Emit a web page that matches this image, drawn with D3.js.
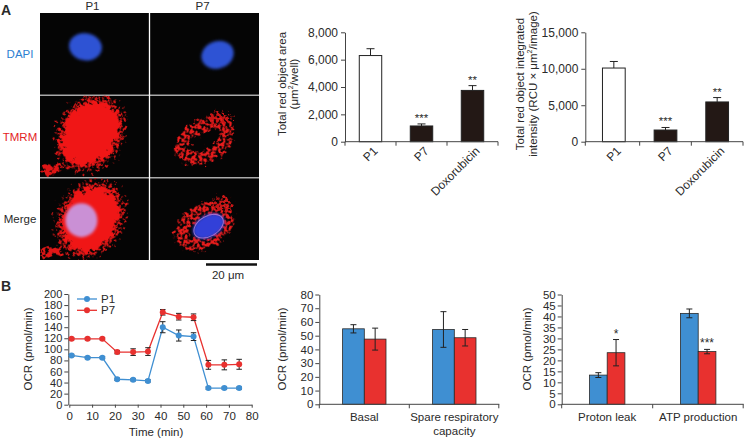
<!DOCTYPE html>
<html><head><meta charset="utf-8">
<script src="https://cdn.jsdelivr.net/npm/d3@7"></script>
<style>
body{margin:0;background:#fff;}
svg{display:block;font-family:"Liberation Sans",Arial,sans-serif;}
text{fill:#2a2a2a;}
</style></head>
<body>
<svg id="c" width="744" height="439"></svg>
<script>
// ---------- DATA ----------
const imgCols = ["P1", "P7"];
const imgRows = ["DAPI", "TMRM", "Merge"];
const scaleBarLabel = "20 \u03bcm";

const areaCats = ["P1", "P7", "Doxorubicin"];
const areaVals = [6300, 1150, 3750];
const areaErr = [500, 150, 350];
const areaSig = ["", "***", "**"];
const areaTicks = [0, 2000, 4000, 6000, 8000];

const intCats = ["P1", "P7", "Doxorubicin"];
const intVals = [10100, 1600, 5450];
const intErr = [900, 350, 600];
const intSig = ["", "***", "**"];
const intTicks = [0, 5000, 10000, 15000];

const timePts = [1, 8, 14.5, 21, 28, 34.5, 41, 48, 54.5, 61, 68, 74.5];
const p1Ocr = [89, 85, 85, 46, 45, 43, 140, 125, 123, 30, 30, 30];
const p1OcrErr = [2, 2, 2, 2, 2, 2, 10, 10, 7, 2, 2, 2];
const p7Ocr = [119, 119, 119, 95, 95, 96, 167, 159, 158, 72, 72, 73];
const p7OcrErr = [2, 2, 2, 3, 6, 7, 5, 6, 6, 8, 9, 9];
const timeTicks = [0, 10, 20, 30, 40, 50, 60, 70, 80];
const ocrTicks = [0, 20, 40, 60, 80, 100, 120, 140, 160, 180, 200];
const seriesNames = ["P1", "P7"];

const resCats = [["Basal"], ["Spare respiratory", "capacity"]];
const resP1 = [55, 54.5];
const resP1Err = [3, 13];
const resP7 = [47.5, 48.5];
const resP7Err = [8, 6];
const resTicks = [0, 10, 20, 30, 40, 50, 60, 70, 80];

const leakCats = [["Proton leak"], ["ATP production"]];
const leakP1 = [13.3, 41.4];
const leakP1Err = [1.1, 2];
const leakP7 = [23.5, 24];
const leakP7Err = [6, 1];
const leakSig = ["*", "***"];
const leakTicks = [0, 5, 10, 15, 20, 25, 30, 35, 40, 45, 50];

// ---------- STYLE ----------
const BLUE = "#3f8fd2", RED = "#e8312f", DARK = "#231815", AX = "#444";
const svg = d3.select("#c");

function styleAxis(g, fs) {
  g.selectAll("path.domain").attr("stroke", AX).attr("stroke-width", 1);
  g.selectAll(".tick line").attr("stroke", AX);
  g.selectAll(".tick text").attr("fill", "#2a2a2a").style("font-size", (fs || 11) + "px").style("font-family", '"Liberation Sans",Arial,sans-serif');
}
function errBar(g, x, y0, y1, w) {
  g.append("line").attr("x1", x).attr("x2", x).attr("y1", y0).attr("y2", y1).attr("stroke", "#222").attr("stroke-width", 1);
  g.append("line").attr("x1", x - w / 2).attr("x2", x + w / 2).attr("y1", y1).attr("y2", y1).attr("stroke", "#222").attr("stroke-width", 1);
}
function errBar2(g, x, ya, yb, w) {
  g.append("line").attr("x1", x).attr("x2", x).attr("y1", ya).attr("y2", yb).attr("stroke", "#222").attr("stroke-width", 1);
  [ya, yb].forEach(yy => g.append("line").attr("x1", x - w / 2).attr("x2", x + w / 2).attr("y1", yy).attr("y2", yy).attr("stroke", "#222").attr("stroke-width", 1));
}

// ---------- PANEL LETTERS ----------
svg.append("text").attr("x", 1).attr("y", 15).style("font-size", "14px").style("font-weight", "bold").attr("fill", "#222").text("A");
svg.append("text").attr("x", 1).attr("y", 291).style("font-size", "14px").style("font-weight", "bold").attr("fill", "#222").text("B");

// ---------- MICROGRAPHS ----------
const defs = svg.append("defs");
const f1 = defs.append("filter").attr("id", "rough").attr("x", "-30%").attr("y", "-30%").attr("width", "160%").attr("height", "160%");
f1.append("feTurbulence").attr("type", "fractalNoise").attr("baseFrequency", 0.16).attr("numOctaves", 3).attr("seed", 3).attr("result", "n");
f1.append("feDisplacementMap").attr("in", "SourceGraphic").attr("in2", "n").attr("scale", 18).attr("xChannelSelector", "R").attr("yChannelSelector", "G");
const f2 = defs.append("filter").attr("id", "rough2").attr("x", "-30%").attr("y", "-30%").attr("width", "160%").attr("height", "160%");
f2.append("feTurbulence").attr("type", "fractalNoise").attr("baseFrequency", 0.22).attr("numOctaves", 2).attr("seed", 7).attr("result", "n");
f2.append("feDisplacementMap").attr("in", "SourceGraphic").attr("in2", "n").attr("scale", 14).attr("xChannelSelector", "R").attr("yChannelSelector", "G").attr("result", "d");
f2.append("feTurbulence").attr("type", "fractalNoise").attr("baseFrequency", 0.35).attr("numOctaves", 1).attr("seed", 11).attr("result", "m");
f2.append("feColorMatrix").attr("in", "m").attr("type", "matrix").attr("values", "0 0 0 0 0  0 0 0 0 0  0 0 0 0 0  0 0 0 8 -3.4").attr("result", "mask");
f2.append("feComposite").attr("in", "d").attr("in2", "mask").attr("operator", "in");
const fb = defs.append("filter").attr("id", "blur").attr("x", "-30%").attr("y", "-30%").attr("width", "160%").attr("height", "160%");
fb.append("feGaussianBlur").attr("stdDeviation", 1.4);
const fe = defs.append("filter").attr("id", "edge").attr("x", "-30%").attr("y", "-30%").attr("width", "160%").attr("height", "160%");
fe.append("feTurbulence").attr("type", "fractalNoise").attr("baseFrequency", 0.3).attr("numOctaves", 2).attr("seed", 5).attr("result", "n");
fe.append("feDisplacementMap").attr("in", "SourceGraphic").attr("in2", "n").attr("scale", 26).attr("xChannelSelector", "R").attr("yChannelSelector", "G").attr("result", "d");
fe.append("feTurbulence").attr("type", "fractalNoise").attr("baseFrequency", 0.4).attr("numOctaves", 1).attr("seed", 2).attr("result", "m");
fe.append("feColorMatrix").attr("in", "m").attr("type", "matrix").attr("values", "0 0 0 0 0  0 0 0 0 0  0 0 0 0 0  0 0 0 7 -2.9").attr("result", "mask");
fe.append("feComposite").attr("in", "d").attr("in2", "mask").attr("operator", "in");

const colX = d3.scaleBand().domain(imgCols).range([40, 259]).paddingInner(0.012);
const rowY = d3.scaleBand().domain(imgRows).range([13, 260]).paddingInner(0.012);
const mg = svg.append("g");
imgCols.forEach(c => imgRows.forEach(r => {
  const x0 = colX(c), y0 = rowY(r), w = colX.bandwidth(), h = rowY.bandwidth();
  const cell = mg.append("g");
  cell.append("clipPath").attr("id", `cp${c}${r}`).append("rect").attr("x", x0).attr("y", y0).attr("width", w).attr("height", h);
  cell.append("rect").attr("x", x0).attr("y", y0).attr("width", w).attr("height", h).attr("fill", "#050505");
  const g = cell.append("g").attr("clip-path", `url(#cp${c}${r})`);
  const cx = x0 + w / 2, cy = y0 + h / 2;
  if (r === "DAPI") {
    const dx = c === "P1" ? -9 : 13, dy = c === "P1" ? -7 : 1;
    g.append("ellipse").attr("cx", cx + dx).attr("cy", cy + dy).attr("rx", 16.5).attr("ry", 13.5)
      .attr("transform", `rotate(${c === "P1" ? 10 : -20},${cx + dx},${cy + dy})`)
      .attr("fill", "#2d52d4").attr("filter", "url(#blur)");
  } else {
    if (c === "P1") {
      const ox = -4, oy = r === "TMRM" ? -3 : 0;
      g.append("ellipse").attr("cx", cx + ox).attr("cy", cy + oy).attr("rx", 32).attr("ry", 40)
        .attr("transform", `rotate(30,${cx + ox},${cy + oy})`).attr("fill", "#d81818").attr("filter", "url(#edge)");
      g.append("ellipse").attr("cx", cx + ox).attr("cy", cy + oy).attr("rx", 27).attr("ry", 34)
        .attr("transform", `rotate(30,${cx + ox},${cy + oy})`).attr("fill", "#f01818").attr("filter", "url(#rough)");
      g.append("ellipse").attr("cx", x0 + 12).attr("cy", y0 + h - 8).attr("rx", 12).attr("ry", 4)
        .attr("transform", `rotate(-20,${x0 + 12},${y0 + h - 8})`).attr("fill", "#e01515").attr("filter", "url(#rough)");
      if (r === "Merge") {
        g.append("ellipse").attr("cx", cx - 13).attr("cy", cy + 1).attr("rx", 16).attr("ry", 17)
          .attr("fill", "#c79be6").attr("opacity", 0.92).attr("filter", "url(#blur)");
      }
    } else {
      const oy = r === "TMRM" ? 4 : 7;
      g.append("ellipse").attr("cx", cx).attr("cy", cy + oy).attr("rx", 25).attr("ry", 15)
        .attr("transform", `rotate(-30,${cx},${cy + oy})`).attr("fill", "none")
        .attr("stroke", "#e81a1a").attr("stroke-width", 13).attr("filter", "url(#rough2)");
      g.append("ellipse").attr("cx", cx + 16).attr("cy", cy + oy - 22).attr("rx", 11).attr("ry", 7)
        .attr("fill", "#c81515").attr("filter", "url(#rough2)");
      if (r === "Merge") {
        g.append("ellipse").attr("cx", cx + 4).attr("cy", cy + oy).attr("rx", 17).attr("ry", 11)
          .attr("transform", `rotate(-30,${cx + 4},${cy + oy})`).attr("fill", "#3340d8").attr("filter", "url(#blur)");
        g.append("ellipse").attr("cx", cx + 4).attr("cy", cy + oy).attr("rx", 16).attr("ry", 10)
          .attr("transform", `rotate(-30,${cx + 4},${cy + oy})`).attr("fill", "none").attr("stroke", "#d9a0f0").attr("stroke-width", 1).attr("opacity", 0.6);
      }
    }
  }
}));
imgCols.forEach(c => mg.append("text").attr("x", colX(c) + colX.bandwidth() / 2 - 2).attr("y", 10).attr("text-anchor", "middle").style("font-size", "11.5px").text(c));
const rowColor = { DAPI: "#2d7fd1", TMRM: "#e31e24", Merge: "#2a2a2a" };
imgRows.forEach(r => mg.append("text").attr("x", 20).attr("y", rowY(r) + rowY.bandwidth() / 2 + 4).attr("text-anchor", "middle")
  .style("font-size", "11.5px").style("fill", rowColor[r]).text(r));
mg.append("line").attr("x1", 206).attr("x2", 257).attr("y1", 264.5).attr("y2", 264.5).attr("stroke", "#111").attr("stroke-width", 2.5);
mg.append("text").attr("x", 228).attr("y", 279).attr("text-anchor", "middle").style("font-size", "11.5px").text(scaleBarLabel);

// ---------- A BAR CHARTS ----------
function barChartA(cats, vals, errs, sig, ticks, xr, axisX, labels, labelX) {
  const g = svg.append("g");
  const y = d3.scaleLinear().domain([0, ticks[ticks.length - 1]]).range([141.7, 32.3]);
  const x = d3.scaleBand().domain(cats).range(xr).paddingInner(0.56).paddingOuter(0.28);
  const xs = d3.scaleBand().domain(cats).range(xr);
  cats.forEach((c, i) => {
    const cx = x(c) + x.bandwidth() / 2;
    errBar(g, cx, y(vals[i]), y(vals[i] + errs[i]), 8);
    g.append("rect").attr("x", x(c)).attr("y", y(vals[i])).attr("width", x.bandwidth()).attr("height", y(0) - y(vals[i]))
      .attr("fill", i === 0 ? "#fff" : DARK).attr("stroke", "#222").attr("stroke-width", 1);
    if (sig[i]) g.append("text").attr("x", cx).attr("y", y(vals[i] + errs[i]) - 2).attr("text-anchor", "middle").style("font-size", "11.5px").text(sig[i]);
    g.append("text").attr("transform", `translate(${cx + 5},${y(0) + 7}) rotate(-45)`).attr("text-anchor", "end").attr("dy", "0.35em")
      .style("font-size", "12px").text(c);
  });
  const ya = g.append("g").attr("transform", `translate(${axisX},0)`).call(d3.axisLeft(y).tickValues(ticks).tickSize(4).tickSizeOuter(0).tickFormat(d3.format(",")));
  styleAxis(ya, 12);
  g.append("line").attr("x1", axisX).attr("x2", xr[1]).attr("y1", y(0)).attr("y2", y(0)).attr("stroke", AX);
  const bounds = cats.map(c => xs(c)).concat([xr[1]]);
  bounds.forEach((b, i) => g.append("line").attr("x1", i === 0 ? axisX : b).attr("x2", i === 0 ? axisX : b).attr("y1", y(0)).attr("y2", y(0) + 4).attr("stroke", AX));
  labels.forEach((l, i) => g.append("text").attr("transform", `translate(${labelX[i]},84) rotate(-90)`).attr("text-anchor", "middle")
    .style("font-size", "11.5px").html(l));
}
barChartA(areaCats, areaVals, areaErr, areaSig, areaTicks, [345, 498], 345,
  ["Total red object area", "(\u03bcm<tspan dy='-5' font-size='7'>2</tspan><tspan dy='5'>/well)</tspan>"], [286, 298]);
barChartA(intCats, intVals, intErr, intSig, intTicks, [588, 743], 585.3,
  ["Total red object integrated", "intensity (RCU \u00d7 \u03bcm<tspan dy='-5' font-size='7'>2</tspan><tspan dy='5'>/image)</tspan>"], [524, 537]);

// ---------- B LINE CHART ----------
(function () {
  const g = svg.append("g");
  const x = d3.scaleLinear().domain([0, 80]).range([69.3, 251.7]);
  const y = d3.scaleLinear().domain([0, 200]).range([404.7, 294]);
  const xa = g.append("g").attr("transform", `translate(0,${y(0)})`).call(d3.axisBottom(x).tickValues(timeTicks).tickSize(3).tickSizeOuter(0));
  styleAxis(xa, 11.5);
  const ya = g.append("g").attr("transform", `translate(${x(0) - 1},0)`).call(d3.axisLeft(y).tickValues(ocrTicks).tickSize(4).tickSizeOuter(0));
  styleAxis(ya, 11);
  ya.selectAll(".tick text").attr("x", -6);
  xa.selectAll(".tick text").attr("y", 7.5);
  const series = [[p1Ocr, p1OcrErr, BLUE], [p7Ocr, p7OcrErr, RED]];
  series.forEach(([v, e, col]) => {
    g.append("path").datum(v).attr("fill", "none").attr("stroke", col).attr("stroke-width", 1.3)
      .attr("d", d3.line().x((d, i) => x(timePts[i])).y(d => y(d)));
    v.forEach((d, i) => errBar2(g, x(timePts[i]), y(d - e[i]), y(d + e[i]), 5.5));
    v.forEach((d, i) => g.append("circle").attr("cx", x(timePts[i])).attr("cy", y(d)).attr("r", 3).attr("fill", col));
  });
  seriesNames.forEach((n, i) => {
    const ly = 299 + i * 11.3, col = i === 0 ? BLUE : RED;
    g.append("line").attr("x1", 77).attr("x2", 97).attr("y1", ly).attr("y2", ly).attr("stroke", col).attr("stroke-width", 1.3);
    g.append("circle").attr("cx", 87).attr("cy", ly).attr("r", 3).attr("fill", col);
    g.append("text").attr("x", 101).attr("y", ly + 4).style("font-size", "11.5px").text(n);
  });
  g.append("text").attr("transform", `translate(32,349) rotate(-90)`).attr("text-anchor", "middle").style("font-size", "11.5px").text("OCR (pmol/min)");
  g.append("text").attr("x", 156).attr("y", 436).attr("text-anchor", "middle").style("font-size", "11.5px").text("Time (min)");
})();

// ---------- B GROUPED BARS ----------
function groupBars(cats, a, ae, b, be, sig, ticks, xr, barW, ylabX) {
  const g = svg.append("g");
  const y = d3.scaleLinear().domain([0, ticks[ticks.length - 1]]).range([404.3, 294.5]);
  const keys = cats.map(c => c.join(" "));
  const x = d3.scaleBand().domain(keys).range(xr);
  keys.forEach((k, i) => {
    const cx = x(k) + x.bandwidth() / 2;
    [[a, BLUE, -1], [b, RED, 0]].forEach(([v, col, off]) => {
      const bx = cx + off * barW;
      g.append("rect").attr("x", bx).attr("y", y(v[i])).attr("width", barW).attr("height", y(0) - y(v[i]))
        .attr("fill", col).attr("stroke", "#2a2a2a").attr("stroke-width", 0.8);
    });
    [[a, ae, -0.5], [b, be, 0.5]].forEach(([v, e, off]) => errBar2(g, cx + off * barW, y(v[i] - e[i]), y(v[i] + e[i]), 6));
    if (sig && sig[i]) g.append("text").attr("x", cx + 0.5 * barW).attr("y", y(b[i] + be[i]) - 2).attr("text-anchor", "middle").style("font-size", "12px").text(sig[i]);
    cats[i].forEach((line, j) => g.append("text").attr("x", cx).attr("y", 421 + j * 13.5).attr("text-anchor", "middle").style("font-size", "11.5px").text(line));
  });
  const ya = g.append("g").attr("transform", `translate(${xr[0]},0)`).call(d3.axisLeft(y).tickValues(ticks).tickSize(4).tickSizeOuter(0));
  styleAxis(ya, 11.5);
  ya.selectAll(".tick text").attr("x", -6);
  g.append("line").attr("x1", xr[0]).attr("x2", xr[1]).attr("y1", y(0)).attr("y2", y(0)).attr("stroke", AX);
  keys.map(k => x(k)).concat([xr[1] - 0.5]).forEach(bx => g.append("line").attr("x1", bx).attr("x2", bx).attr("y1", y(0)).attr("y2", y(0) + 4).attr("stroke", AX));
  g.append("text").attr("transform", `translate(${ylabX},349) rotate(-90)`).attr("text-anchor", "middle").style("font-size", "11.5px").text("OCR (pmol/min)");
}
groupBars(resCats, resP1, resP1Err, resP7, resP7Err, null, resTicks, [319.3, 499.3], 21.7, 286);
groupBars(leakCats, leakP1, leakP1Err, leakP7, leakP7Err, leakSig, leakTicks, [561.7, 743.7], 17.7, 531);
</script>
</body></html>
